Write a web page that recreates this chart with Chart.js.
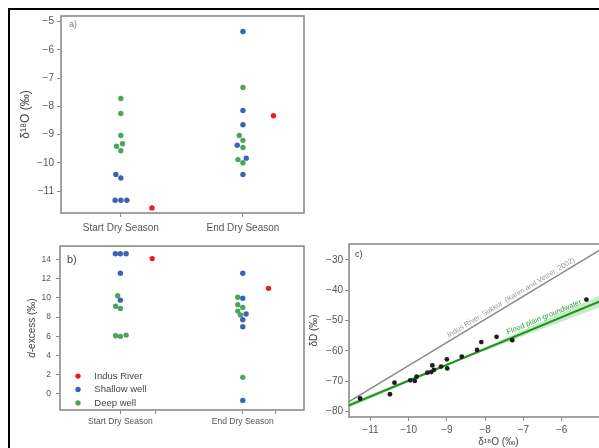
<!DOCTYPE html>
<html>
<head>
<meta charset="utf-8">
<script src="https://cdn.jsdelivr.net/npm/chart.js@4.4.1/dist/chart.umd.min.js"></script>
<style>
  html, body { margin: 0; padding: 0; background: #fff; }
  #fig { position: relative; width: 599px; height: 448px; overflow: hidden; }
  #frame { position: absolute; left: 8px; top: 8px; width: 700px; height: 500px;
           border-top: 2px solid #000; border-left: 2px solid #000; }
  canvas { position: absolute; }
</style>
</head>
<body>
<div id="fig">
  <div id="frame"></div>
  <canvas id="panelA" width="310" height="236" style="left:0;top:0"></canvas>
  <canvas id="panelB" width="310" height="212" style="left:0;top:236px"></canvas>
  <canvas id="panelC" width="345" height="212" style="left:305px;top:236px"></canvas>
</div>
<script>
// categories and legend names
const seasons = ['Start Dry Season', 'End Dry Season'];
const legendNames = ['Indus River', 'Shallow well', 'Deep well'];

// a) d18O per season (x = season index + swarm offset)
const o18Ticks = [-11, -10, -9, -8, -7, -6, -5];
const o18River = [{x: 1.255, y: -11.59}, {x: 2.25, y: -8.33}];
const o18Shallow = [
  {x: 0.959, y: -10.41}, {x: 1.0, y: -10.53}, {x: 0.953, y: -11.32}, {x: 1.0, y: -11.32}, {x: 1.049, y: -11.32},
  {x: 2.0, y: -5.35}, {x: 2.0, y: -8.14}, {x: 2.0, y: -8.65}, {x: 1.953, y: -9.37}, {x: 2.027, y: -9.83}, {x: 2.0, y: -10.41}
];
const o18Deep = [
  {x: 1.0, y: -7.72}, {x: 1.0, y: -8.25}, {x: 1.0, y: -9.03}, {x: 0.965, y: -9.41}, {x: 1.014, y: -9.32}, {x: 1.0, y: -9.57},
  {x: 2.0, y: -7.33}, {x: 1.97, y: -9.03}, {x: 2.0, y: -9.20}, {x: 2.0, y: -9.45}, {x: 1.959, y: -9.88}, {x: 2.0, y: -9.99}
];

// b) d-excess per season
const dexTicks = [0, 2, 4, 6, 8, 10, 12, 14];
const dexRiver = [{x: 1.26, y: 14.1}, {x: 2.21, y: 11.0}];
const dexShallow = [
  {x: 0.959, y: 14.6}, {x: 1.0, y: 14.6}, {x: 1.047, y: 14.6}, {x: 1.0, y: 12.57}, {x: 1.0, y: 9.77},
  {x: 2.0, y: 12.57}, {x: 2.0, y: 9.97}, {x: 2.027, y: 8.33}, {x: 2.0, y: 7.73}, {x: 2.0, y: 7.0}, {x: 2.0, y: -0.67}
];
const dexDeep = [
  {x: 0.978, y: 10.23}, {x: 0.961, y: 9.13}, {x: 1.0, y: 8.9}, {x: 0.961, y: 6.06}, {x: 1.0, y: 6.0}, {x: 1.047, y: 6.13},
  {x: 1.959, y: 10.07}, {x: 1.959, y: 9.3}, {x: 2.0, y: 9.0}, {x: 1.959, y: 8.63}, {x: 1.981, y: 8.23}, {x: 2.0, y: 1.73}
];

// c) dD vs d18O
const cTicksX = [-11, -10, -9, -8, -7, -6];
const cTicksY = [-80, -70, -60, -50, -40, -30];
const gwO18 = [-11.27, -10.49, -10.37, -9.96, -9.84, -9.79, -9.51, -9.41, -9.38, -9.34, -9.15, -9.0, -8.99, -8.61, -8.21, -8.10, -7.70, -7.29, -5.35];
const gwD   = [-75.7, -74.3, -70.5, -69.7, -69.9, -68.5, -67.2, -67.0, -64.8, -66.3, -65.2, -62.8, -65.8, -61.9, -59.7, -57.1, -55.4, -56.5, -43.1];
const sukkurLine = [{x: -11.6, y: -77.0}, {x: -3.7, y: -16.9}];
const floodLine = [{x: -11.6, y: -78.2}, {x: -3.7, y: -36.9}];
const floodBandHi = [{x: -11.6, y: -77.4}, {x: -8.6, y: -62.2}, {x: -3.7, y: -34.4}];
const floodBandLo = [{x: -11.6, y: -79.0}, {x: -8.6, y: -62.8}, {x: -3.7, y: -39.4}];

const colRiver = '#ee1d1d', colShallow = '#3b63b3', colDeep = '#4ba55b';
const frameColor = '#8c8c8c';

Chart.defaults.font.family = '"Liberation Sans", Arial, sans-serif';
Chart.defaults.color = '#555';
Chart.defaults.animation = false;
Chart.defaults.plugins.legend.display = false;
Chart.defaults.plugins.tooltip.enabled = false;

const minus = v => String(v).replace('-', '\u2212');
const fixedTicks = list => scale => { scale.ticks = list.map(v => ({value: v})); };

// gray box round the plot area
const boxPlugin = {
  id: 'box',
  beforeDatasetsDraw(chart) {
    const {ctx, chartArea: a} = chart;
    ctx.save();
    ctx.strokeStyle = frameColor;
    ctx.lineWidth = 1.6;
    ctx.strokeRect(a.left, a.top, a.right - a.left, a.bottom - a.top);
    ctx.restore();
  }
};

// panel tag like "a)"
const tagPlugin = {
  id: 'tag',
  afterDraw(chart, args, o) {
    const {ctx, chartArea: a} = chart;
    ctx.save();
    ctx.font = o.size + 'px "Liberation Sans", Arial, sans-serif';
    ctx.fillStyle = o.color;
    ctx.textBaseline = 'middle';
    ctx.fillText(o.text, a.left + o.dx, a.top + o.dy);
    ctx.restore();
  }
};

// legend inside panel b
const innerLegend = {
  id: 'innerLegend',
  afterDraw(chart) {
    const {ctx, chartArea: a} = chart;
    ctx.save();
    ctx.font = '9.5px "Liberation Sans", Arial, sans-serif';
    ctx.textBaseline = 'middle';
    chart.data.datasets.forEach((ds, i) => {
      const y = a.top + 130 + i * 13.4;
      ctx.fillStyle = ds.backgroundColor;
      ctx.beginPath();
      ctx.arc(a.left + 18, y, 2.7, 0, Math.PI * 2);
      ctx.fill();
      ctx.fillStyle = '#444';
      ctx.fillText(ds.label, a.left + 34.3, y);
    });
    ctx.restore();
  }
};

// y title with italic d for panel b
const dexTitle = {
  id: 'dexTitle',
  afterDraw(chart) {
    const {ctx, chartArea: a} = chart;
    const f = '10px "Liberation Sans", Arial, sans-serif';
    const fi = 'italic ' + f;
    ctx.save();
    ctx.translate(32.5, (a.top + a.bottom) / 2);
    ctx.rotate(-Math.PI / 2);
    ctx.fillStyle = '#444';
    ctx.textBaseline = 'middle';
    ctx.font = fi;
    const w1 = ctx.measureText('d').width;
    ctx.font = f;
    const w2 = ctx.measureText('-excess (\u2030)').width;
    let x = -(w1 + w2) / 2;
    ctx.font = fi;
    ctx.fillText('d', x, 0);
    ctx.font = f;
    ctx.fillText('-excess (\u2030)', x + w1, 0);
    ctx.restore();
  }
};

// text along the regression lines in panel c
const lineLabels = {
  id: 'lineLabels',
  afterDatasetsDraw(chart, args, o) {
    const {ctx, scales: {x, y}} = chart;
    o.items.forEach(it => {
      const d = chart.data.datasets[it.dataset].data;
      const x0 = x.getPixelForValue(d[0].x), y0 = y.getPixelForValue(d[0].y);
      const x1 = x.getPixelForValue(d[1].x), y1 = y.getPixelForValue(d[1].y);
      const t = (it.at - d[0].x) / (d[1].x - d[0].x);
      ctx.save();
      ctx.translate(x0 + t * (x1 - x0), y0 + t * (y1 - y0));
      ctx.rotate(Math.atan2(y1 - y0, x1 - x0));
      ctx.font = it.size + 'px "Liberation Sans", Arial, sans-serif';
      ctx.fillStyle = it.color;
      ctx.textAlign = 'center';
      ctx.textBaseline = 'bottom';
      ctx.fillText(it.text, 0, -it.gap);
      ctx.restore();
    });
  }
};

function dots(label, data, color) {
  return {label, data, backgroundColor: color, pointRadius: 2.7, pointHoverRadius: 2.7, pointBorderWidth: 0};
}

// ---- panel a
new Chart(document.getElementById('panelA'), {
  type: 'scatter',
  data: {datasets: [
    dots(legendNames[0], o18River, colRiver),
    dots(legendNames[1], o18Shallow, colShallow),
    dots(legendNames[2], o18Deep, colDeep)
  ]},
  options: {
    responsive: false,
    layout: {padding: {top: 16, right: 6, left: 0, bottom: 0}},
    scales: {
      x: {
        type: 'linear', min: 0.51, max: 2.5,
        afterBuildTicks: fixedTicks([1, 2]),
        afterFit: s => { s.height = 23; },
        ticks: {callback: v => seasons[v - 1] || '', font: {size: 10}, padding: 5, maxRotation: 0, autoSkip: false},
        grid: {drawOnChartArea: false, tickLength: 4, color: frameColor},
        border: {display: false}
      },
      y: {
        min: -11.77, max: -4.8,
        afterBuildTicks: fixedTicks(o18Ticks),
        afterFit: s => { s.width = 61; },
        ticks: {callback: minus, font: {size: 10}, padding: 3},
        grid: {drawOnChartArea: false, tickLength: 4, color: frameColor},
        border: {display: false},
        title: {display: true, text: '\u03b4\u00b9\u2078O (\u2030)', font: {size: 12}, color: '#444', padding: {top: 18}}
      }
    },
    plugins: {tag: {text: 'a)', size: 9, color: '#777', dx: 8, dy: 9}}
  },
  plugins: [boxPlugin, tagPlugin]
});

// ---- panel b
new Chart(document.getElementById('panelB'), {
  type: 'scatter',
  data: {datasets: [
    dots(legendNames[0], dexRiver, colRiver),
    dots(legendNames[1], dexShallow, colShallow),
    dots(legendNames[2], dexDeep, colDeep)
  ]},
  options: {
    responsive: false,
    layout: {padding: {top: 3, right: 6, left: 0, bottom: 0}},
    scales: {
      x: {
        type: 'linear', min: 0.507, max: 2.5,
        afterBuildTicks: fixedTicks([1, 1.29, 2, 2.27]),
        afterFit: s => { s.height = 38; },
        ticks: {callback: v => Number.isInteger(v) ? seasons[v - 1] : '', font: {size: 8.5}, padding: 3, maxRotation: 0, autoSkip: false},
        grid: {drawOnChartArea: false, tickLength: 4, color: frameColor},
        border: {display: false}
      },
      y: {
        min: -1.67, max: 15.4,
        afterBuildTicks: fixedTicks(dexTicks),
        afterFit: s => { s.width = 60; },
        ticks: {font: {size: 8.5}, padding: 5},
        grid: {drawOnChartArea: false, tickLength: 4, color: frameColor},
        border: {display: false}
      }
    },
    plugins: {tag: {text: 'b)', size: 11, color: '#444', dx: 7, dy: 13.5}}
  },
  plugins: [boxPlugin, tagPlugin, innerLegend, dexTitle]
});

// ---- panel c
new Chart(document.getElementById('panelC'), {
  type: 'scatter',
  data: {datasets: [
    {label: 'groundwater', data: gwO18.map((v, i) => ({x: v, y: gwD[i]})), backgroundColor: '#1e1e1e',
     pointRadius: 2.4, pointHoverRadius: 2.4, pointBorderWidth: 0, order: 0},
    {label: 'Flood plain groundwater', data: floodLine, showLine: true, borderColor: '#1b961b', borderWidth: 2,
     pointRadius: 0, order: 1},
    {label: 'Indus River, Sukkur', data: sukkurLine, showLine: true, borderColor: '#8a8a8a', borderWidth: 1.5,
     pointRadius: 0, order: 2},
    {label: 'band', data: floodBandHi, showLine: true, borderWidth: 0, borderColor: 'rgba(0,0,0,0)',
     backgroundColor: 'rgba(120,205,120,0.4)', fill: '+1', pointRadius: 0, order: 3},
    {label: 'band low', data: floodBandLo, showLine: true, borderWidth: 0, borderColor: 'rgba(0,0,0,0)',
     pointRadius: 0, order: 4}
  ]},
  options: {
    responsive: false,
    layout: {padding: {top: 6, right: 0, left: 0, bottom: 0}},
    scales: {
      x: {
        type: 'linear', min: -11.56, max: -3.75,
        afterBuildTicks: fixedTicks(cTicksX),
        afterFit: s => { s.height = 31; },
        ticks: {callback: minus, font: {size: 10}, padding: 3, maxRotation: 0, autoSkip: false},
        grid: {drawOnChartArea: false, tickLength: 4, color: frameColor},
        border: {display: false},
        title: {display: true, text: '\u03b4\u00b9\u2078O (\u2030)', font: {size: 10}, color: '#444', padding: {top: 0, bottom: 0}}
      },
      y: {
        min: -81.8, max: -24.8,
        afterBuildTicks: fixedTicks(cTicksY),
        afterFit: s => { s.width = 44; },
        ticks: {callback: minus, font: {size: 10}, padding: 2},
        grid: {drawOnChartArea: false, tickLength: 4, color: frameColor},
        border: {display: false},
        title: {display: true, text: '\u03b4D (\u2030)', font: {size: 10}, color: '#444', padding: {top: 3}}
      }
    },
    plugins: {
      tag: {text: 'c)', size: 9, color: '#333', dx: 6, dy: 11},
      lineLabels: {items: [
        {dataset: 2, at: -7.25, text: 'Indus River, Sukkur  (Karim and Veizer, 2002)', color: '#9a9a9a', size: 7.3, gap: 1.5},
        {dataset: 1, at: -6.39, text: 'Flood plain groundwater', color: '#2f9f3f', size: 7.5, gap: 3}
      ]}
    }
  },
  plugins: [boxPlugin, tagPlugin, lineLabels]
});
</script>
</body>
</html>
